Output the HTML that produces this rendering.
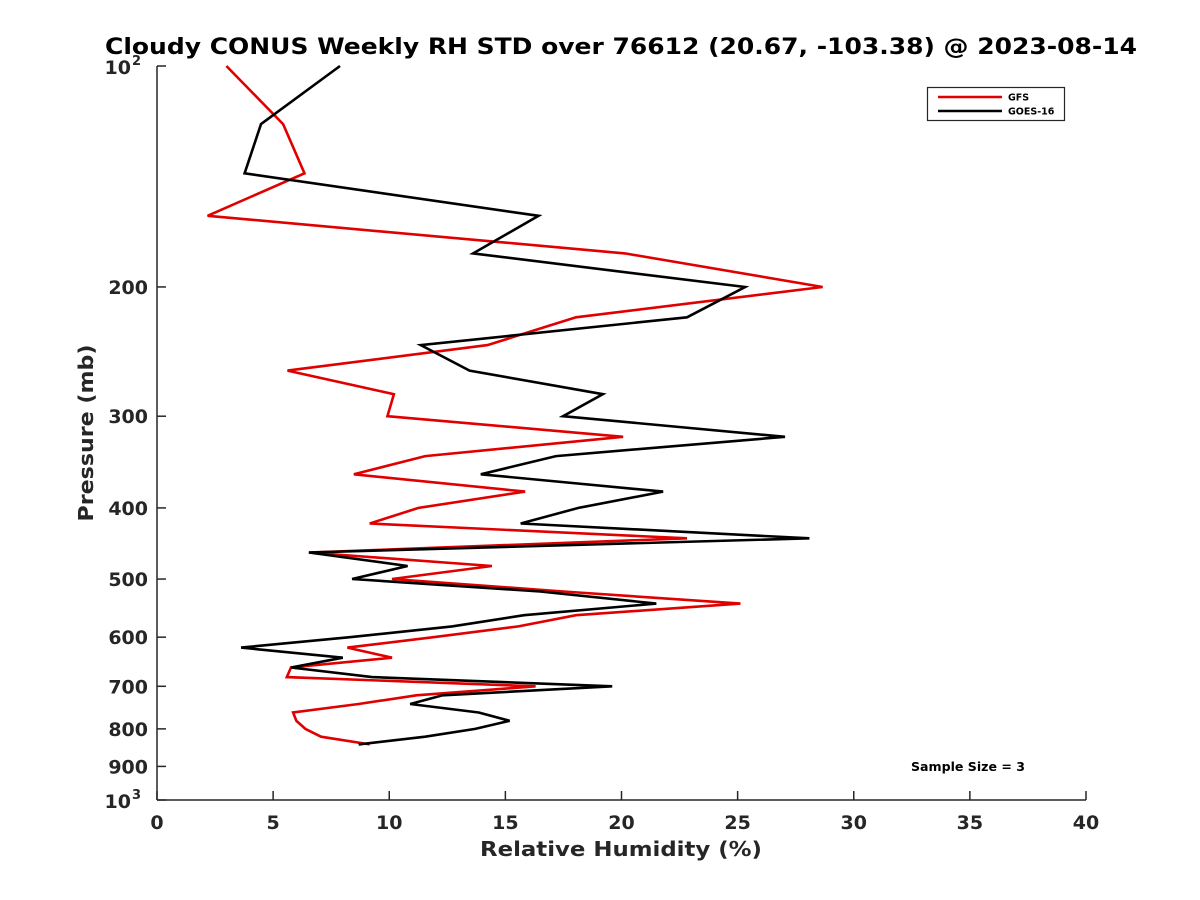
<!DOCTYPE html>
<html><head><meta charset="utf-8"><style>
body{margin:0;background:#fff;}
svg{display:block;font-family:"DejaVu Sans","Liberation Sans",sans-serif;font-weight:bold;}
</style></head><body>
<svg id="chart" width="1200" height="900" viewBox="0 0 1200 900">
<rect width="1200" height="900" fill="#fff"/>
<text x="621" y="54" font-size="22" text-anchor="middle" fill="#000" textLength="1032" lengthAdjust="spacingAndGlyphs">Cloudy CONUS Weekly RH STD over 76612 (20.67, -103.38) @ 2023-08-14</text>
<g id="axes"></g>
<g id="series"></g>
<text x="621" y="856" font-size="20" text-anchor="middle" fill="#262626" textLength="282" lengthAdjust="spacingAndGlyphs">Relative Humidity (%)</text>
<text transform="translate(93,433) rotate(-90)" font-size="20" text-anchor="middle" fill="#262626" textLength="177" lengthAdjust="spacingAndGlyphs">Pressure (mb)</text>
<g>
<rect x="927.5" y="87.5" width="137" height="33" fill="#fff" stroke="#262626" stroke-width="1.2"/>
<line x1="938" y1="97" x2="1002" y2="97" stroke="#e00000" stroke-width="2.5"/>
<text x="1008" y="100.5" font-size="9.5" fill="#000">GFS</text>
<line x1="938" y1="111" x2="1002" y2="111" stroke="#000" stroke-width="2.5"/>
<text x="1008" y="114.5" font-size="9.5" fill="#000">GOES-16</text>
</g>
<text x="911" y="771" font-size="12" fill="#000" textLength="114" lengthAdjust="spacingAndGlyphs">Sample Size = 3</text>
</svg>
<script>
const pressures = [100,120,140,160,180,200,220,240,260,280,300,320,340,360,380,400,420,440,460,480,500,520,540,560,580,600,620,640,660,680,700,720,740,760,780,800,820,840];
const gfsValues = [2.99,5.43,6.35,2.18,20.15,28.66,18.04,14.23,5.62,10.2,9.92,20.07,11.55,8.48,15.85,11.26,9.16,22.82,6.54,14.42,10.12,17.5,25.12,18.04,15.56,11.9,8.2,10.12,5.77,5.59,16.3,11.17,8.68,5.86,6.0,6.39,7.06,9.16];
const goesValues = [7.88,4.48,3.77,16.43,13.61,25.32,22.82,11.36,13.46,19.2,17.48,27.04,17.18,13.94,21.79,18.15,15.66,28.09,6.54,10.79,8.4,16.5,21.5,15.8,12.7,8.3,3.62,8.0,5.77,9.26,19.6,12.3,10.9,13.85,15.18,13.7,11.55,8.68];
const xTicks = [0,5,10,15,20,25,30,35,40];
const yTicks = [200,300,400,500,600,700,800,900];

const NS = "http://www.w3.org/2000/svg";
const L = 157, R = 1086, T = 66, B = 800;
const xs = v => L + (v - 0) / 40 * (R - L);
const ys = p => T + Math.log10(p / 100) * (B - T);
const axes = document.getElementById('axes');
const series = document.getElementById('series');
function mk(tag, attrs, parent) {
  const e = document.createElementNS(NS, tag);
  for (const k in attrs) e.setAttribute(k, attrs[k]);
  parent.appendChild(e);
  return e;
}
const c = '#262626';
let el = mk('line', {x1:L, y1:T, x2:L, y2:B, stroke:c, 'stroke-width':1.5}, axes);


el = mk('line', {x1:L, y1:B, x2:R, y2:B, stroke:c, 'stroke-width':1.5}, axes);


xTicks.forEach(v => {
  const x = xs(v);
  const t = mk('line', {x1:x, y1:B, x2:x, y2:B-9, stroke:c, 'stroke-width':1.5}, axes);
  
  
  const lb = mk('text', {x:x, y:829, 'font-size':19, 'text-anchor':'middle', fill:c}, axes);
  lb.textContent = v;
  
  
});
[100].concat(yTicks, [1000]).forEach(p => {
  const y = ys(p);
  const t = mk('line', {x1:L, y1:y, x2:L+9, y2:y, stroke:c, 'stroke-width':1.5}, axes);
  
  
});
yTicks.forEach(p => {
  const lb = mk('text', {x:148, y:ys(p)+7, 'font-size':19, 'text-anchor':'end', fill:c}, axes);
  lb.textContent = p;
  
  
});
[[100,'2'],[1000,'3']].forEach(([p,e]) => {
  const lb = mk('text', {x:131, y:ys(p)+8, 'font-size':19, 'text-anchor':'end', fill:c}, axes);
  lb.textContent = '10';
  
  
  const ex = mk('text', {x:132, y:ys(p)-1, 'font-size':13, 'text-anchor':'start', fill:c}, axes);
  ex.textContent = e;
  
  
});
function drawLine(vals, color, name) {
  const pts = vals.map((v,i) => xs(v).toFixed(1) + ',' + ys(pressures[i]).toFixed(1)).join(' ');
  const pl = mk('polyline', {points:pts, fill:'none', stroke:color, 'stroke-width':2.6, 'stroke-linejoin':'miter'}, series);
  
  
}
drawLine(gfsValues, '#e00000', 'gfs-line');
drawLine(goesValues, '#000000', 'goes16-line');
</script>
</body></html>
